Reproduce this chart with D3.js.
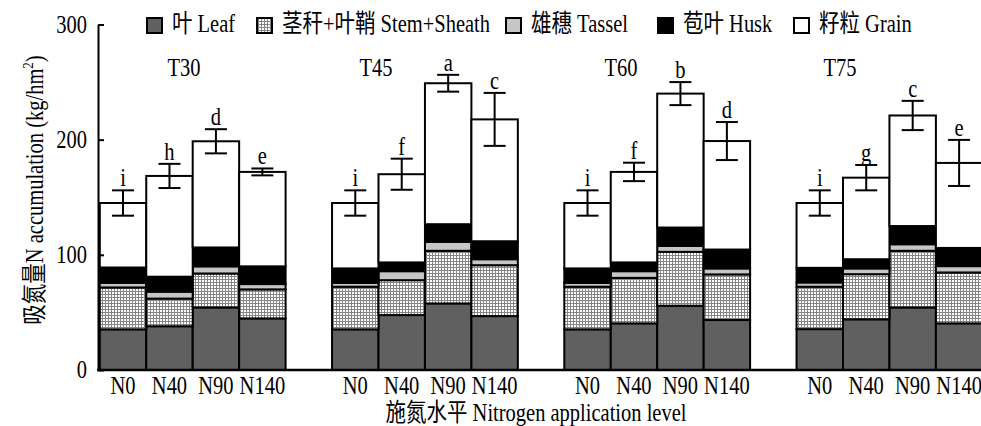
<!DOCTYPE html>
<html><head><meta charset="utf-8">
<script src="https://cdn.jsdelivr.net/npm/d3@7"></script>
<style>
html,body{margin:0;padding:0;background:#fff;}
svg{display:block;}
text{font-family:"Liberation Serif","Times New Roman","Noto Sans CJK SC",serif;fill:#000;}
</style></head>
<body>
<svg id="chart" width="981" height="426"></svg>
<script>
// ---- data ----
const groups = ["T30", "T45", "T60", "T75"];
const levels = ["N0", "N40", "N90", "N140"];
const seriesNames = ["叶 Leaf", "茎秆+叶鞘 Stem+Sheath", "雄穗 Tassel", "苞叶 Husk", "籽粒 Grain"];
// values ordered T30(N0,N40,N90,N140), T45(...), T60(...), T75(...)
const leaf   = [35.3, 38.0, 54.3, 44.8,  35.3, 47.7, 57.8, 46.8,  35.3, 40.5, 55.8, 43.4,  35.5, 44.0, 54.3, 40.5];
const stem   = [36.4, 24.0, 29.5, 25.2,  37.0, 30.3, 45.7, 44.2,  37.0, 39.5, 46.8, 39.6,  36.8, 39.2, 49.2, 44.2];
const tassel = [4.0, 6.0, 6.2, 4.6,      3.4, 7.8, 7.8, 5.2,      3.4, 5.8, 5.2, 5.2,      3.7, 5.0, 5.7, 5.5];
const husk   = [13.3, 13.0, 16.4, 15.4,  12.5, 7.6, 15.3, 15.6,   12.5, 7.6, 15.9, 16.4,   12.7, 8.0, 15.8, 15.8];
const grain  = [56.0, 87.5, 92.2, 82.0,  56.8, 76.6, 122.4, 105.8, 56.8, 78.6, 116.3, 94.2, 56.3, 70.8, 96.0, 73.8];
const errs   = [11, 10.5, 10.5, 3,       11, 13.5, 7.3, 23,       11, 8, 10, 16.5,         11, 11, 12.7, 20];
const letters = ["i","h","d","e", "i","f","a","c", "i","f","b","d", "i","g","c","e"];
const yTicks = [0, 100, 200, 300];
const yTitle = "吸氮量N accumulation (kg/hm";
const xTitle = "施氮水平 Nitrogen application level";

// ---- layout / style ----
const FS = 20.5, SY = 1.2;
const fills = ["#606060", "url(#grid)", "#c6c6c6", "#000000", "#ffffff"];
const legendX = [147, 257, 506, 658, 794];
const groupLabelX = [184, 376, 621, 840];

const svg = d3.select("#chart");
const defs = svg.append("defs");
const pat = defs.append("pattern").attr("id", "grid").attr("width", 3).attr("height", 3)
  .attr("patternUnits", "userSpaceOnUse");
pat.append("rect").attr("width", 3).attr("height", 3).attr("fill", "#fff");
pat.append("path").attr("d", "M0 0.5H3M0.5 0V3").attr("stroke", "#858585").attr("stroke-width", 1);

const y = d3.scaleLinear().domain([0, 300]).range([370, 24.5]);
const x0 = d3.scaleBand().domain(groups).range([99.8, 982.35]).paddingInner(0.2).paddingOuter(0);
const x1 = d3.scaleBand().domain(levels).range([0, x0.bandwidth()]);

const keys = ["leaf", "stem", "tassel", "husk", "grain"];
const rows = [];
groups.forEach((g, gi) => levels.forEach((l, li) => {
  const i = gi * 4 + li;
  rows.push({group: g, level: l, leaf: leaf[i], stem: stem[i], tassel: tassel[i], husk: husk[i], grain: grain[i], err: errs[i], letter: letters[i]});
}));
const stacked = d3.stack().keys(keys)(rows);

function stretch(sel, tx, ty, extra) {
  sel.attr("transform", (d, i) => `translate(${typeof tx === "function" ? tx(d, i) : tx},${typeof ty === "function" ? ty(d, i) : ty})${extra || ""} scale(1,${SY})`);
}

// bars
const layers = svg.append("g").selectAll("g").data(stacked).join("g")
  .attr("fill", (d, i) => fills[i]);
layers.selectAll("rect").data(d => d).join("rect")
  .attr("x", d => x0(d.data.group) + x1(d.data.level))
  .attr("width", x1.bandwidth())
  .attr("y", d => y(d[1]))
  .attr("height", d => y(d[0]) - y(d[1]))
  .attr("stroke", "#000").attr("stroke-width", 2);

// error bars
const eb = svg.append("g").attr("stroke", "#000").attr("stroke-width", 2);
rows.forEach(r => {
  const tot = r.leaf + r.stem + r.tassel + r.husk + r.grain;
  const cx = x0(r.group) + x1(r.level) + x1.bandwidth() / 2;
  eb.append("line").attr("x1", cx).attr("x2", cx).attr("y1", y(tot + r.err)).attr("y2", y(tot - r.err));
  eb.append("line").attr("x1", cx - 11).attr("x2", cx + 11).attr("y1", y(tot + r.err)).attr("y2", y(tot + r.err));
  eb.append("line").attr("x1", cx - 11).attr("x2", cx + 11).attr("y1", y(tot - r.err)).attr("y2", y(tot - r.err));
  svg.append("text").text(r.letter).attr("text-anchor", "middle").attr("font-size", FS)
    .call(stretch, cx, y(tot + r.err) - 4);
});

// y axis
const yAxis = svg.append("g").attr("transform", "translate(98,0)")
  .call(d3.axisLeft(y).tickValues(yTicks).tickSizeInner(-6).tickSizeOuter(0).tickPadding(11));
yAxis.attr("font-family", null).attr("font-size", null);
yAxis.select(".domain").attr("stroke-width", 2);
yAxis.selectAll(".tick line").attr("stroke-width", 2);
yAxis.selectAll(".tick text").attr("font-size", FS).attr("dy", "0.32em").attr("transform", `scale(1,${SY})`);

// x baseline
svg.append("line").attr("x1", 97).attr("x2", 981).attr("y1", y(0)).attr("y2", y(0))
  .attr("stroke", "#000").attr("stroke-width", 2.5);

// x axes (one per group)
groups.forEach(g => {
  const ax = svg.append("g").attr("transform", `translate(${x0(g)},${y(0)})`)
    .call(d3.axisBottom(x1).tickSize(0).tickPadding(0));
  ax.attr("font-family", null).attr("font-size", null);
  ax.select(".domain").remove();
  ax.selectAll(".tick text").attr("font-size", FS).attr("y", 0).attr("dy", 0)
    .attr("transform", `translate(0,24) scale(1,${SY})`);
});

// group labels
svg.append("g").selectAll("text").data(groups).join("text")
  .text(d => d).attr("text-anchor", "middle").attr("font-size", FS)
  .call(stretch, (d, i) => groupLabelX[i], 76);

// axis titles
svg.append("text").text(xTitle).attr("text-anchor", "middle").attr("font-size", FS)
  .call(stretch, 536, 421);
const yt = svg.append("text").attr("text-anchor", "middle").attr("font-size", FS)
  .call(stretch, 43, 190, " rotate(-90)");
yt.append("tspan").text(yTitle);
yt.append("tspan").text("2").attr("font-size", 13).attr("dy", -8);
yt.append("tspan").text(")").attr("dy", 8);

// legend
const lg = svg.append("g").selectAll("g").data(seriesNames).join("g");
lg.append("rect").attr("x", (d, i) => legendX[i]).attr("y", 18).attr("width", 15).attr("height", 15)
  .attr("fill", (d, i) => fills[i]).attr("stroke", "#000").attr("stroke-width", 2);
lg.append("text").text(d => d).attr("font-size", FS)
  .call(stretch, (d, i) => legendX[i] + 25, 32);
</script>
</body></html>
